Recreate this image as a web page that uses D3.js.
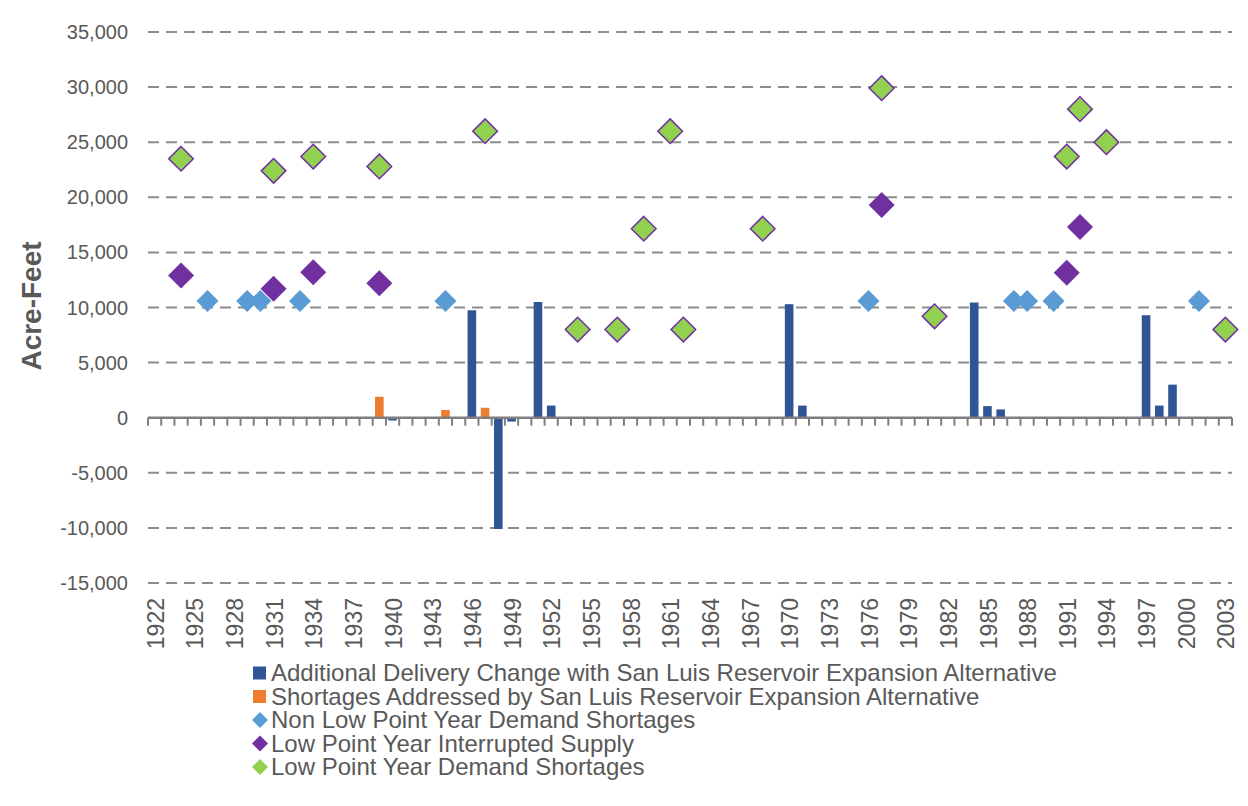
<!DOCTYPE html>
<html>
<head>
<meta charset="utf-8">
<script src="https://cdn.jsdelivr.net/npm/d3@7"></script>
<style>
  body { margin: 0; background: #fff; }
  text { font-family: "Liberation Sans", Arial, sans-serif; }
</style>
</head>
<body>
<svg id="chart" width="1248" height="806"></svg>
<script>
// ---- Data ----
const years = d3.range(1922, 2004);
const tickLabelYears = d3.range(1922, 2004, 3);
const yTicks = [-15000, -10000, -5000, 0, 5000, 10000, 15000, 20000, 25000, 30000, 35000];

const deliveryChange = [
  [1940, -250], [1946, 9750], [1948, -10100], [1949, -350], [1951, 10500], [1952, 1100],
  [1970, 10300], [1971, 1100], [1973, -100], [1984, 10450], [1985, 1050], [1986, 750],
  [1997, 9300], [1998, 1100], [1999, 3000], [2000, -100]
];
const shortagesAddressed = [[1939, 1900], [1944, 700], [1947, 900]];
const nonLowPointShortages = [
  [1926, 10600], [1929, 10600], [1930, 10600], [1933, 10600], [1944, 10600],
  [1976, 10600], [1987, 10600], [1988, 10600], [1990, 10600], [2001, 10600]
];
const lowPointInterrupted = [
  [1924, 12900], [1931, 11700], [1934, 13200], [1939, 12200], [1977, 19300], [1991, 13150], [1992, 17300]
];
const lowPointShortages = [
  [1924, 23500], [1931, 22400], [1934, 23700], [1939, 22800], [1947, 26000], [1954, 8000],
  [1957, 8000], [1959, 17150], [1961, 26000], [1962, 8000], [1968, 17150], [1977, 29900],
  [1981, 9200], [1991, 23700], [1992, 28000], [1994, 25000], [2003, 8000]
];
const seriesNames = [
  "Additional Delivery Change with San Luis Reservoir Expansion Alternative",
  "Shortages Addressed by San Luis Reservoir Expansion Alternative",
  "Non Low Point Year Demand Shortages",
  "Low Point Year Interrupted Supply",
  "Low Point Year Demand Shortages"
];
const colors = ["#2F5597", "#ED7D31", "#5B9BD5", "#7030A0", "#92D050"];

// ---- Layout ----
const svg = d3.select("#chart");
const mLeft = 148, mRight = 1232, mTop = 32, mBottom = 583;
const textColor = "#595959", gridColor = "#8c8c8c";

const x = d3.scaleBand().domain(years).range([mLeft, mRight]).padding(0);
const y = d3.scaleLinear().domain([-15000, 35000]).range([mBottom, mTop]);
const cx = yr => x(yr) + x.bandwidth() / 2;
const fmt = d => d3.format(",")(d).replace("\u2212", "-");

// gridlines
svg.append("g").selectAll("line").data(yTicks.filter(d => d !== 0)).join("line")
  .attr("x1", mLeft).attr("x2", mRight)
  .attr("y1", d => y(d)).attr("y2", d => y(d))
  .attr("stroke", gridColor).attr("stroke-width", 2).attr("stroke-dasharray", "11,7");

// y axis labels
svg.append("g").selectAll("text").data(yTicks).join("text")
  .attr("x", 128).attr("y", d => y(d)).attr("dy", "0.35em")
  .attr("text-anchor", "end").attr("font-size", 20).attr("fill", textColor)
  .text(fmt);

// y title
svg.append("text")
  .attr("transform", `translate(41,306) rotate(-90)`)
  .attr("text-anchor", "middle").attr("font-size", 28).attr("font-weight", "bold")
  .attr("fill", textColor).text("Acre-Feet");

// bars
const barW = 8.6;
svg.append("g").selectAll("rect").data(deliveryChange).join("rect")
  .attr("x", d => cx(d[0]) - barW / 2).attr("width", barW)
  .attr("y", d => Math.min(y(d[1]), y(0))).attr("height", d => Math.abs(y(d[1]) - y(0)))
  .attr("fill", colors[0]);
svg.append("g").selectAll("rect").data(shortagesAddressed).join("rect")
  .attr("x", d => cx(d[0]) - barW / 2).attr("width", barW)
  .attr("y", d => Math.min(y(d[1]), y(0))).attr("height", d => Math.abs(y(d[1]) - y(0)))
  .attr("fill", colors[1]);

// x axis line and ticks
const y0 = y(0);
svg.append("line").attr("x1", mLeft).attr("x2", mRight).attr("y1", y0).attr("y2", y0)
  .attr("stroke", "#7f7f7f").attr("stroke-width", 2.5);
const boundaries = years.map(d => x(d)).concat([mRight]);
svg.append("g").selectAll("line").data(boundaries).join("line")
  .attr("x1", d => d).attr("x2", d => d).attr("y1", y0).attr("y2", y0 + 8)
  .attr("stroke", "#7f7f7f").attr("stroke-width", 2);

// x labels
svg.append("g").selectAll("text").data(tickLabelYears).join("text")
  .attr("transform", d => `translate(${cx(d) + 1},598) rotate(-90)`)
  .attr("text-anchor", "end").attr("dy", "0.35em")
  .attr("font-size", 23).attr("fill", textColor).text(d => d);

// diamonds
const diamond = r => `M0,${-r}L${r},0L0,${r}L${-r},0Z`;
svg.append("g").selectAll("path").data(nonLowPointShortages).join("path")
  .attr("transform", d => `translate(${cx(d[0])},${y(d[1])})`)
  .attr("d", diamond(11)).attr("fill", colors[2]);
svg.append("g").selectAll("path").data(lowPointInterrupted).join("path")
  .attr("transform", d => `translate(${cx(d[0])},${y(d[1])})`)
  .attr("d", diamond(13)).attr("fill", colors[3]);
svg.append("g").selectAll("path").data(lowPointShortages).join("path")
  .attr("transform", d => `translate(${cx(d[0])},${y(d[1])})`)
  .attr("d", diamond(12.3)).attr("fill", colors[4])
  .attr("stroke", colors[3]).attr("stroke-width", 1.5);

// legend
const legend = svg.append("g").attr("transform", "translate(253,673)");
const rows = legend.selectAll("g").data(seriesNames).join("g")
  .attr("transform", (d, i) => `translate(0,${i * 23.5})`);
rows.each(function(d, i) {
  const g = d3.select(this);
  if (i < 2) {
    g.append("rect").attr("x", 0).attr("y", -6.5).attr("width", 13).attr("height", 13).attr("fill", colors[i]);
  } else {
    g.append("path").attr("transform", "translate(7,0)").attr("d", diamond(8)).attr("fill", colors[i]);
  }
  g.append("text").attr("x", 18).attr("dy", "0.35em").attr("font-size", 24)
    .attr("fill", textColor).text(d);
});
</script>
</body>
</html>
